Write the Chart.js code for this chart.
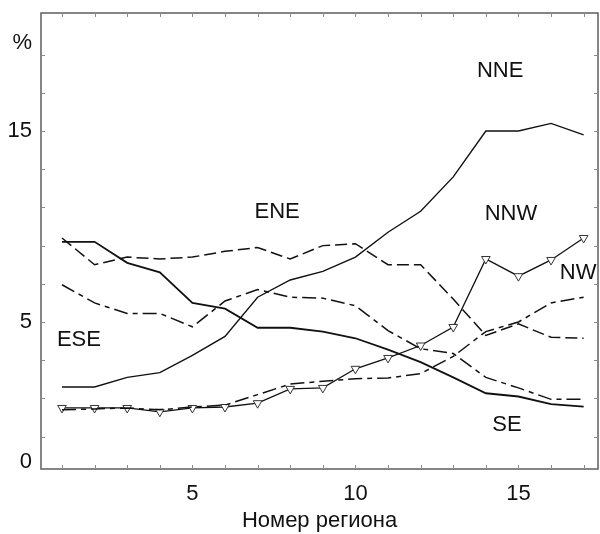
<!DOCTYPE html>
<html><head><meta charset="utf-8">
<script src="https://cdn.jsdelivr.net/npm/chart.js@4/dist/chart.umd.min.js"></script>
<style>html,body{margin:0;padding:0;background:#fff}#wrap{width:600px;height:534px;position:relative}</style>
</head><body><div id="wrap"><canvas id="c"></canvas></div>
<script>
// Region numbers (x axis)
const regions = [1,2,3,4,5,6,7,8,9,10,11,12,13,14,15,16,17];
// Wind-direction frequencies, %
const NNE = [1.6,1.6,2.1,2.35,3.25,4.25,6.3,7.2,7.65,8.4,9.7,10.8,12.6,15.0,15.0,15.4,14.8];
const ENE = [9.4,8.0,8.4,8.3,8.4,8.7,8.9,8.3,9.0,9.1,8.0,8.0,6.2,4.3,4.9,4.2,4.15];
const ESE = [6.95,6.0,5.45,5.45,4.75,6.1,6.7,6.3,6.25,5.85,4.55,3.6,3.35,2.1,1.55,0.95,0.95];
const SE  = [9.2,9.2,8.1,7.6,6.0,5.7,4.7,4.7,4.5,4.15,3.55,2.9,2.1,1.27,1.1,0.7,0.57];
const NNW = [0.5,0.5,0.5,0.3,0.5,0.55,0.75,1.5,1.55,2.55,3.12,3.77,4.74,8.3,7.4,8.25,9.4];
const NW  = [0.4,0.45,0.5,0.4,0.55,0.65,1.2,1.75,1.9,2.03,2.07,2.3,3.2,4.5,5.0,6.0,6.3];

// Axis ticks
const xTickValues = [5,10,15];
const yTickValues = [-2.35,5,15,19.6];
const yTickLabels = ['0','5','15','%'];
const yMinorTicks = [-1,1,3,5,7,9,11,13,15,17,19];

// Series name annotations (anchor in data units)
const annNames = ['NNE','ENE','NNW','NW','ESE','SE'];
const annX = [14.44,7.6,14.77,16.83,1.52,14.65];
const annY = [18.14,10.76,10.65,7.57,4.06,-0.39];

const FONT = '"Liberation Sans", Arial, sans-serif';
const pts = arr => regions.map((r,i)=>({x:r,y:arr[i]}));

const frame = {
  id:'frame',
  afterDraw(chart){
    const {ctx, chartArea:a, scales:{x,y}} = chart;
    ctx.save();
    ctx.strokeStyle = '#5e5e5e'; ctx.lineWidth = 1.5;
    ctx.strokeRect(a.left, a.top, a.right-a.left, a.bottom-a.top);
    ctx.strokeStyle = '#8a8a8a'; ctx.lineWidth = 1;
    const ln=(x1,y1,x2,y2)=>{ctx.beginPath();ctx.moveTo(x1,y1);ctx.lineTo(x2,y2);ctx.stroke();};
    for(const v of yMinorTicks){
      const py = Math.round(y.getPixelForValue(v))+0.5;
      ln(a.left, py, a.left+4, py);
      ln(a.right-4, py, a.right, py);
    }
    for(const v of regions){
      const px = Math.round(x.getPixelForValue(v))+0.5;
      ln(px, a.bottom, px, a.bottom-4);
      ln(px, a.top, px, a.top+4);
    }
    ctx.restore();
  }
};
const names = {
  id:'names',
  afterDatasetsDraw(chart){
    const {ctx, scales:{x,y}} = chart;
    ctx.save();
    ctx.font = '22px ' + FONT;
    ctx.fillStyle = '#111';
    ctx.textAlign = 'center';
    ctx.textBaseline = 'middle';
    annNames.forEach((n,i)=>ctx.fillText(n, x.getPixelForValue(annX[i]), y.getPixelForValue(annY[i])));
    ctx.restore();
  }
};

const base = {fill:false, pointRadius:0, borderColor:'#111', tension:0};
new Chart(document.getElementById('c'), {
  type:'line',
  data:{datasets:[
    {...base, label:'NNE', data:pts(NNE), borderWidth:1.4},
    {...base, label:'ENE', data:pts(ENE), borderWidth:1.5, borderDash:[12,5]},
    {...base, label:'ESE', data:pts(ESE), borderWidth:1.5, borderDash:[14,5,5,5]},
    {...base, label:'SE',  data:pts(SE),  borderWidth:1.8},
    {...base, label:'NW',  data:pts(NW),  borderWidth:1.5, borderDash:[14,5,5,5]},
    {...base, label:'NNW', data:pts(NNW), borderWidth:1.3, pointRadius:5, pointStyle:'triangle', rotation:180,
      pointBackgroundColor:'#fff', pointBorderColor:'#333', pointBorderWidth:1}
  ]},
  options:{
    responsive:true, maintainAspectRatio:false, animation:false,
    layout:{autoPadding:false, padding:{top:13,right:2,left:0,bottom:0}},
    plugins:{legend:{display:false}, tooltip:{enabled:false}},
    scales:{
      x:{type:'linear', min:0.356, max:17.44,
        grid:{display:false, drawTicks:false}, border:{display:false},
        afterBuildTicks:s=>{s.ticks = xTickValues.map(v=>({value:v}));},
        ticks:{font:{size:22, family:FONT}, color:'#111', padding:12, autoSkip:false, maxRotation:0},
        title:{display:true, text:'Номер региона', font:{size:22, family:FONT}, color:'#111', padding:{top:0,bottom:0}},
        afterFit:s=>{s.height = 65; s.paddingLeft = 0; s.paddingRight = 0;}
      },
      y:{type:'linear', min:-2.696, max:21.18,
        grid:{display:false, drawTicks:false}, border:{display:false},
        afterBuildTicks:s=>{s.ticks = yTickValues.map(v=>({value:v}));},
        ticks:{font:{size:22, family:FONT}, color:'#111', padding:9, autoSkip:false,
          callback:v=>yTickLabels[yTickValues.indexOf(v)]},
        afterFit:s=>{s.width = 41; s.paddingTop = 0; s.paddingBottom = 0;}
      }
    }
  },
  plugins:[frame, names]
});
</script></body></html>
